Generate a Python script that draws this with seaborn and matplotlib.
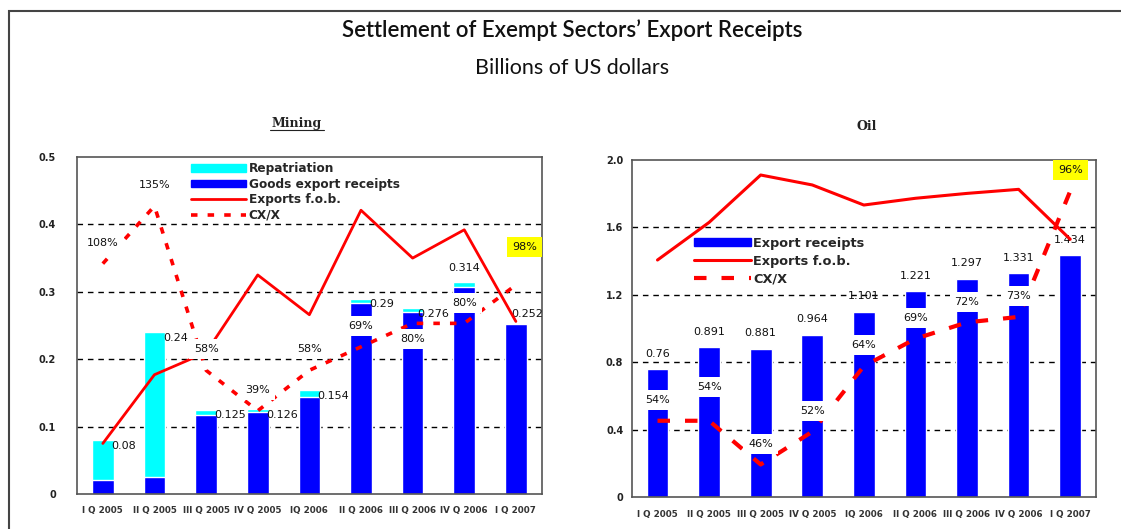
# Settlement of exempt sectors' export receipts: mining and oil, quarterly
import numpy as np
import pandas as pd
import seaborn as sns
import matplotlib
import matplotlib.pyplot as plt
from matplotlib.patches import Patch, Rectangle
from matplotlib.lines import Line2D

matplotlib.use("Agg")

quarters = ["I Q 2005", "II Q 2005", "III Q 2005", "IV Q 2005", "IQ 2006",
            "II Q 2006", "III Q 2006", "IV Q 2006", "I Q 2007"]

# Mining (billions of US dollars)
mining_total = [0.08, 0.24, 0.125, 0.126, 0.154, 0.29, 0.276, 0.314, 0.252]
mining_goods = [0.021, 0.025, 0.117, 0.121, 0.144, 0.284, 0.270, 0.307, 0.252]
mining_fob = [0.075, 0.177, 0.21, 0.325, 0.266, 0.421, 0.350, 0.392, 0.256]
mining_cx = [108, 135, 58, 39, 58, 69, 80, 80, 98]
mining_yticks = [0, 0.1, 0.2, 0.3, 0.4, 0.5]
mining_ylabels = ["0", "0.1", "0.2", "0.3", "0.4", "0.5"]

# Oil (billions of US dollars)
oil_receipts = [0.76, 0.891, 0.881, 0.964, 1.101, 1.221, 1.297, 1.331, 1.434]
oil_fob = [1.407, 1.63, 1.911, 1.852, 1.733, 1.773, 1.802, 1.826, 1.53]
oil_cx = [54, 54, 46, 52, 64, 69, 72, 73, 96]
oil_yticks = [0, 0.4, 0.8, 1.2, 1.6, 2.0]
oil_ylabels = ["0", "0.4", "0.8", "1.2", "1.6", "2.0"]

BLUE = "#0000FF"
CYAN = "#00FFFF"
RED = "#FF0000"
DASH_M = (0, (1.8, 2.8))
DASH_O = (0, (3.0, 3.6))

sns.set_style("white")
plt.rcParams["font.family"] = ["DejaVu Sans"]

fig = plt.figure(figsize=(11.21, 5.29), dpi=100)
W, H = 1121, 529


def axes_px(left, top, right, bottom):
    return fig.add_axes([left / W, 1 - bottom / H, (right - left) / W, (bottom - top) / H])


def style_axes(ax, yticks, ylabels, ymax, ypad):
    ax.set_ylim(0, ymax)
    ax.set_xlim(-0.5, len(quarters) - 0.5)
    ax.set_yticks(yticks)
    ax.set_yticklabels(ylabels, fontsize=7, fontweight="bold", color="#222222")
    ax.set_xticks(range(len(quarters)))
    ax.set_xticklabels(quarters, fontsize=6.3, fontweight="bold", color="#333333")
    ax.set_xticks(np.arange(0.5, len(quarters) - 1, 1), minor=True)
    ax.tick_params(axis="x", which="major", length=0, pad=9)
    ax.tick_params(axis="x", which="minor", length=3, direction="in", color="#555555")
    ax.tick_params(axis="y", length=0, pad=ypad)
    ax.set_xlabel("")
    ax.set_ylabel("")
    for y in yticks[1:-1]:
        ax.axhline(y, color="black", lw=1.0, ls=(0, (4, 3.5)), zorder=0.5)
    for s in ax.spines.values():
        s.set_color("#555555")
        s.set_linewidth(1.2)


def pct_label(ax2, i, v, dx=0, dy=15, yellow=False):
    ax2.annotate(f"{v}%", (i, v), xytext=(dx, dy), textcoords="offset points",
                 ha="center", va="center", fontsize=8, color="#111111", zorder=10,
                 bbox=dict(boxstyle="square,pad=0.45",
                           fc="#FFFF00" if yellow else "white", ec="none"))


pos = np.arange(len(quarters))

# ---------------- Mining ----------------
ax = axes_px(77, 157, 541.7, 494)
df_m = pd.DataFrame({"q": quarters, "total": mining_total, "goods": mining_goods})
sns.barplot(data=df_m, x="q", y="total", color=CYAN, saturation=1, width=0.42, ax=ax, zorder=2)
sns.barplot(data=df_m, x="q", y="goods", color=BLUE, saturation=1, width=0.42, ax=ax, zorder=2)
sns.lineplot(x=pos, y=mining_fob, color=RED, lw=2, ax=ax, zorder=4)
style_axes(ax, mining_yticks, mining_ylabels, 0.5, 15)

# where each value label sits relative to its bar top (points)
label_off = {6: (3, -4, "left"), 7: (0, 10, "center"), 8: (-3, 7, "left")}
for i, v in enumerate(mining_total):
    dx, dy, ha = label_off.get(i, (6, -4, "left"))
    ax.annotate(f"{v:g}", (i, v), xytext=(dx, dy), textcoords="offset points",
                ha=ha, va="center", fontsize=8, color="#111111", zorder=3)

ax2 = ax.twinx()
ax2.set_ylim(0, 158)
ax2.axis("off")
sns.lineplot(x=pos, y=mining_cx, color=RED, lw=2.6, ls=DASH_M, ax=ax2)
pct_off = {6: (0, -11), 8: (6, 27)}
for i, v in enumerate(mining_cx):
    dx, dy = pct_off.get(i, (0, 15))
    pct_label(ax2, i, v, dx, dy, yellow=(i == 8))

handles = [Patch(color=CYAN), Patch(color=BLUE),
           Line2D([], [], color=RED, lw=2), Line2D([], [], color=RED, lw=2.6, ls=DASH_M)]
ax2.legend(handles, ["Repatriation", "Goods export receipts", "Exports f.o.b.", "CX/X"],
           loc="upper left", bbox_to_anchor=(0.245, 0.984), frameon=False,
           prop=dict(weight="bold", size=8.7), handlelength=4.6, handleheight=0.6,
           handletextpad=0.2, labelspacing=0.2, borderpad=0, borderaxespad=0)

# ---------------- Oil ----------------
bx = axes_px(631.7, 160, 1096, 497.3)
df_o = pd.DataFrame({"q": quarters, "receipts": oil_receipts})
sns.barplot(data=df_o, x="q", y="receipts", color=BLUE, saturation=1, width=0.42, ax=bx, zorder=2)
sns.lineplot(x=pos, y=oil_fob, color=RED, lw=2.2, ax=bx, zorder=4)
style_axes(bx, oil_yticks, oil_ylabels, 2.0, 6)

for i, v in enumerate(oil_receipts):
    bx.annotate(f"{v:g}", (i, v), xytext=(0, 11), textcoords="offset points",
                ha="center", va="center", fontsize=8, color="#111111", zorder=3)

bx2 = bx.twinx()
bx2.set_ylim(40, 101.7)
bx2.axis("off")
sns.lineplot(x=pos, y=oil_cx, color=RED, lw=3, ls=DASH_O, ax=bx2)
for i, v in enumerate(oil_cx):
    dx, dy = {1: (0, 24)}.get(i, (0, 15))
    pct_label(bx2, i, v, dx, dy, yellow=(i == 8))

handles = [Patch(color=BLUE), Line2D([], [], color=RED, lw=2.2),
           Line2D([], [], color=RED, lw=3, ls=DASH_O)]
bx2.legend(handles, ["Export receipts", "Exports f.o.b.", "CX/X"],
           loc="upper left", bbox_to_anchor=(0.134, 0.772), frameon=False,
           prop=dict(weight="bold", size=9.3), handlelength=4.4, handleheight=0.6,
           handletextpad=0.2, labelspacing=0.38, borderpad=0, borderaxespad=0)

# ---------------- Titles and frame ----------------
fig.text(572 / W, 1 - 30 / H, "Settlement of Exempt Sectors\u2019 Export Receipts",
         ha="center", va="center", fontsize=16, fontweight="semibold",
         family=["Lato", "DejaVu Sans"], color="#111111")
fig.text(572 / W, 1 - 68 / H, "Billions of US dollars", ha="center", va="center",
         fontsize=15.5, family=["Lato", "DejaVu Sans"], color="#111111")
fig.text(297 / W, 1 - 123 / H, "Mining", ha="center", va="center", fontsize=9,
         fontweight="bold", family=["DejaVu Serif"], color="#222222")
fig.text(867 / W, 1 - 127 / H, "Oil", ha="center", va="center", fontsize=9,
         fontweight="bold", family=["DejaVu Serif"], color="#222222")
fig.add_artist(Line2D([270 / W, 324 / W], [1 - 130 / H, 1 - 130 / H],
                      transform=fig.transFigure, color="#222222", lw=0.8))
fig.add_artist(Rectangle((9 / W, -0.1), 1.2, 1 - 11 / H + 0.1, transform=fig.transFigure,
                         fill=False, ec="#444444", lw=1.5))

fig.savefig("out.png", dpi=100)
